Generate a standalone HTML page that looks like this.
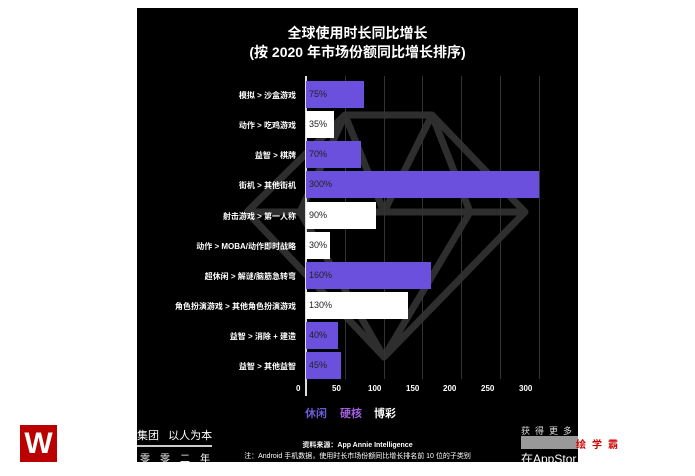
<!DOCTYPE html><html><head><meta charset="utf-8"><style>
body{margin:0;width:695px;height:476px;background:#fff;position:relative;overflow:hidden;font-family:"Liberation Sans","Noto Sans CJK SC",sans-serif}
.p{position:absolute;left:137px;top:8px;width:441px;height:454px;background:#000}
.t{position:absolute;color:#fff;white-space:nowrap}
.lab{position:absolute;right:399px;color:#fff;font-size:8px;font-weight:bold;text-align:right;white-space:nowrap}
.bar{position:absolute;left:306px;height:27px;font-size:9px;line-height:27px;padding-left:3px;box-sizing:border-box;color:#222}
.pu{background:#6a50dc}.wh{background:#fff}
.g{position:absolute;top:76px;height:303px;width:1px;background:#333}
.tk{position:absolute;top:384px;color:#fff;font-size:8px;font-weight:bold}
</style></head><body>
<div class="p"></div>
<svg style="position:absolute;left:0;top:0" width="695" height="476"><g fill="none" stroke="#2e2e2e" stroke-width="7" stroke-linejoin="round"><polygon points="345,115 432,115 525,212 384,357 247,212"/><line x1="247" y1="212" x2="525" y2="212"/><polyline points="345,115 300,212 384,357 470,212 432,115"/><polyline points="345,115 384,212 432,115"/></g></svg>
<div class="t" style="left:137px;width:441px;top:24px;text-align:center;font-size:14px;font-weight:bold;line-height:19px">全球使用时长同比增长<br>(按 2020 年市场份额同比增长排序)</div>
<div class="g" style="left:345px"></div><div class="g" style="left:384px"></div><div class="g" style="left:422px"></div><div class="g" style="left:461px"></div><div class="g" style="left:500px"></div><div class="g" style="left:539px"></div>
<div style="position:absolute;left:305px;top:76px;width:2px;height:320px;background:#ddd"></div>
<div class="bar pu" style="top:81px;width:58px">75%</div><div class="lab" style="top:90px">模拟 &gt; 沙盒游戏</div>
<div class="bar wh" style="top:111px;width:28px">35%</div><div class="lab" style="top:120px">动作 &gt; 吃鸡游戏</div>
<div class="bar pu" style="top:141px;width:55px">70%</div><div class="lab" style="top:150px">益智 &gt; 棋牌</div>
<div class="bar pu" style="top:171px;width:233px">300%</div><div class="lab" style="top:180px">街机 &gt; 其他街机</div>
<div class="bar wh" style="top:202px;width:70px">90%</div><div class="lab" style="top:211px">射击游戏 &gt; 第一人称</div>
<div class="bar wh" style="top:232px;width:24px">30%</div><div class="lab" style="top:241px">动作 &gt; MOBA/动作即时战略</div>
<div class="bar pu" style="top:262px;width:125px">160%</div><div class="lab" style="top:271px">超休闲 &gt; 解谜/脑筋急转弯</div>
<div class="bar wh" style="top:292px;width:102px">130%</div><div class="lab" style="top:301px">角色扮演游戏 &gt; 其他角色扮演游戏</div>
<div class="bar pu" style="top:322px;width:32px">40%</div><div class="lab" style="top:331px">益智 &gt; 消除 + 建造</div>
<div class="bar pu" style="top:352px;width:35px">45%</div><div class="lab" style="top:361px">益智 &gt; 其他益智</div>
<div class="tk" style="left:296px">0</div><div class="tk" style="left:332px">50</div><div class="tk" style="left:368px">100</div><div class="tk" style="left:406px">150</div><div class="tk" style="left:443px">200</div><div class="tk" style="left:481px">250</div><div class="tk" style="left:519px">300</div>
<div class="t" style="left:305px;top:405px;font-size:11px;font-weight:bold;color:#6b5bd6">休闲</div>
<div class="t" style="left:340px;top:405px;font-size:11px;font-weight:bold;color:#a060e0">硬核</div>
<div class="t" style="left:374px;top:405px;font-size:11px;font-weight:bold">博彩</div>
<div class="t" style="left:137px;top:427px;font-size:11px">集团 &nbsp;&nbsp;以人为本</div>
<div style="position:absolute;left:137px;top:445px;width:75px;height:2px;background:#ccc"></div>
<div class="t" style="left:140px;top:450px;font-size:10px;letter-spacing:10px">零零二年</div>
<div class="t" style="left:137px;width:441px;text-align:center;top:440px;font-size:7px;font-weight:bold">资料来源：App Annie Intelligence</div>
<div class="t" style="left:137px;width:441px;text-align:center;top:451px;font-size:7px">注：Android 手机数据，使用时长市场份额同比增长排名前 10 位的子类别</div>
<div class="t" style="left:521px;top:424px;font-size:9px;letter-spacing:5px;color:#ddd">获得更多</div>
<div style="position:absolute;left:521px;top:436px;width:57px;height:13px;background:#999"></div>
<div class="t" style="left:576px;top:436px;font-size:10px;color:#c00;font-weight:bold;letter-spacing:6px">绘学霸</div>
<div class="t" style="left:521px;top:450px;font-size:12px">在AppStor</div>
<div style="position:absolute;left:20px;top:425px;width:37px;height:37px;background:#b00;color:#fff;font-size:30px;font-weight:bold;text-align:center;line-height:37px">W</div>
</body></html>
